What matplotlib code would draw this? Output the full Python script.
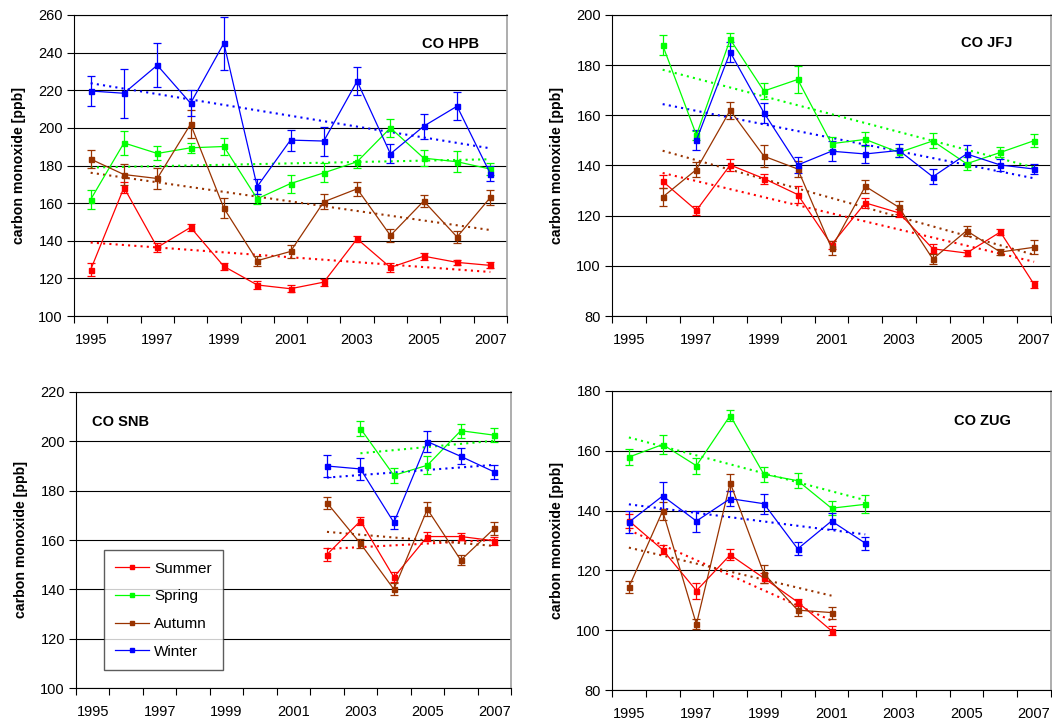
import numpy as np
import matplotlib
matplotlib.use("Agg")
import matplotlib.pyplot as plt
from matplotlib.lines import Line2D

plt.rcParams['font.family'] = ['Liberation Sans', 'DejaVu Sans']

nan = np.nan

# Category axis shared by all four stations
axis_years = list(range(1995, 2008))
year_labels = [str(y) for y in axis_years[::2]]

season_names = ['Summer', 'Spring', 'Autumn', 'Winter']
season_colors = ['#FF0000', '#00FF00', '#993300', '#0000FF']

# ---- HPB (1995-2007) ----
hpb_years = list(range(1995, 2008))
hpb_summer = [124.6, 168.3, 136.5, 147.1, 126.4, 116.5, 114.5, 118.0, 141.0, 125.8, 131.8, 128.5, 126.9]
hpb_summer_err = [3.4, 3.0, 2.5, 2.0, 2.0, 2.3, 2.0, 1.8, 1.3, 2.5, 1.8, 1.5, 1.6]
hpb_spring = [161.9, 192.0, 186.4, 189.4, 190.1, 162.3, 170.4, 176.1, 182.0, 200.0, 183.9, 182.0, 178.1]
hpb_spring_err = [5.0, 6.3, 3.7, 2.8, 4.3, 2.7, 4.8, 5.0, 3.5, 4.7, 4.2, 5.5, 3.3]
hpb_autumn = [183.4, 175.2, 173.1, 202.0, 157.3, 129.4, 134.3, 160.7, 167.6, 142.8, 161.1, 142.0, 163.0]
hpb_autumn_err = [4.9, 5.5, 5.5, 7.5, 5.3, 2.7, 3.3, 3.9, 3.7, 3.4, 3.4, 3.0, 4.2]
hpb_winter = [219.6, 218.4, 233.3, 213.1, 245.0, 168.8, 193.5, 193.0, 224.8, 186.2, 200.9, 211.5, 175.6]
hpb_winter_err = [8.0, 13.0, 11.7, 7.0, 14.0, 4.0, 5.6, 7.7, 7.5, 5.0, 6.7, 7.5, 4.0]

# ---- JFJ (1996-2007) ----
jfj_years = list(range(1996, 2008))
jfj_summer = [133.7, 122.1, 140.2, 134.8, 128.4, 108.4, 125.1, 121.1, 106.8, 105.1, 113.5, 92.6]
jfj_summer_err = [2.5, 1.8, 2.5, 2.0, 3.5, 1.5, 2.0, 1.7, 1.8, 1.3, 1.3, 1.5]
jfj_spring = [188.0, 152.1, 190.3, 169.7, 174.3, 148.7, 150.4, 145.2, 149.8, 140.7, 145.2, 149.9]
jfj_spring_err = [4.0, 1.8, 2.5, 3.0, 5.3, 2.5, 2.8, 1.8, 3.0, 2.5, 2.0, 2.5]
jfj_autumn = [127.4, 138.4, 162.0, 143.7, 138.6, 107.1, 131.7, 123.3, 102.7, 114.0, 105.5, 107.4]
jfj_autumn_err = [3.7, 3.0, 3.3, 4.3, 3.3, 2.8, 2.7, 2.5, 2.0, 2.0, 1.3, 2.7]
jfj_winter = [nan, 150.1, 185.2, 161.0, 140.2, 145.7, 144.6, 146.0, 135.5, 144.6, 140.2, 138.6]
jfj_winter_err = [nan, 4.0, 4.0, 4.0, 3.0, 4.0, 3.5, 2.5, 3.0, 3.5, 2.5, 2.0]

# ---- SNB (2002-2007) ----
snb_years = list(range(2002, 2008))
snb_summer = [154.1, 167.7, 144.9, 161.4, 161.4, 159.7]
snb_summer_err = [2.5, 1.6, 2.0, 1.7, 1.5, 1.7]
snb_spring = [nan, 205.2, 186.2, 190.3, 204.3, 202.5]
snb_spring_err = [nan, 2.9, 3.0, 3.6, 2.9, 2.8]
snb_autumn = [175.1, 158.6, 140.0, 172.5, 151.8, 164.7]
snb_autumn_err = [2.4, 2.0, 2.4, 2.8, 2.0, 2.6]
snb_winter = [190.0, 188.8, 167.1, 199.9, 193.9, 187.6]
snb_winter_err = [4.4, 4.3, 2.8, 4.2, 3.2, 2.8]

# ---- ZUG (1995-2002) ----
zug_years = list(range(1995, 2003))
zug_summer = [136.6, 126.9, 113.2, 125.2, 117.4, 109.4, 99.8, nan]
zug_summer_err = [2.3, 1.5, 2.6, 1.8, 1.6, 1.2, 1.5, nan]
zug_spring = [157.9, 162.1, 155.0, 171.8, 152.1, 150.0, 140.8, 142.1]
zug_spring_err = [2.8, 3.2, 2.6, 2.0, 2.5, 2.5, 2.3, 3.0]
zug_autumn = [114.4, 139.9, 102.0, 149.3, 118.9, 106.7, 105.9, nan]
zug_autumn_err = [2.0, 3.0, 1.7, 2.8, 3.0, 2.0, 2.0, nan]
zug_winter = [136.1, 144.9, 136.5, 144.0, 142.3, 127.2, 136.5, 129.1]
zug_winter_err = [3.6, 4.5, 3.5, 2.5, 3.3, 2.2, 2.8, 2.2]

# Trend lines that start at the first year of the station record even
# where the season has no value for that year
trend_from_record_start = {('CO JFJ', 'Winter')}

W, H = 1052, 721
fig = plt.figure(figsize=(W / 100, H / 100), dpi=100)

TICK_FS = 10.5
LABEL_FS = 10.2


def add_panel(left, top, right, bottom):
    return fig.add_axes([left / W, 1 - bottom / H, (right - left) / W, (bottom - top) / H])


def draw_station(ax, name, years, series, ylim, title_xy, title_ha):
    x_all = np.array([axis_years.index(y) for y in years], dtype=float)
    for (label, color), (vals, errs) in zip(zip(season_names, season_colors), series):
        v = np.array(vals, dtype=float)
        e = np.array(errs, dtype=float)
        ok = ~np.isnan(v)
        # linear trend, dotted
        k, b = np.polyfit(x_all[ok], v[ok], 1)
        x0 = x_all[0] if (name, label) in trend_from_record_start else x_all[ok][0]
        xs = np.array([x0, x_all[ok][-1]])
        ax.plot(xs, k * xs + b, color=color, lw=1.5, linestyle=(0, (1.0, 2.0)),
                zorder=2)
        ax.errorbar(x_all[ok], v[ok], yerr=e[ok], color=color, lw=0.9,
                    marker='s', ms=3.6, capsize=3, elinewidth=0.9, capthick=0.9,
                    label=label, zorder=3)

    ax.set_xlim(-0.5, len(axis_years) - 0.5)
    ax.set_ylim(*ylim)
    ax.set_yticks(np.arange(ylim[0], ylim[1] + 1, 20))
    ax.yaxis.grid(True, color='black', lw=0.8)
    ax.set_axisbelow(True)

    ax.set_xticks(np.arange(-0.5, len(axis_years), 1))
    ax.set_xticklabels([])
    ax.set_xticks(np.arange(0, len(axis_years), 2), minor=True)
    ax.set_xticklabels(year_labels, minor=True)
    ax.tick_params(axis='x', which='major', length=5, width=0.8, direction='out')
    ax.tick_params(axis='x', which='minor', length=0, pad=12.5, labelsize=TICK_FS)
    ax.tick_params(axis='y', length=5, width=0.8, direction='out', labelsize=TICK_FS, pad=3)

    for side in ('left', 'bottom', 'top'):
        ax.spines[side].set_color('black')
        ax.spines[side].set_linewidth(0.8)
    ax.spines['right'].set_color('#a0a0a0')
    ax.spines['right'].set_linewidth(1.2)

    ax.set_ylabel('carbon monoxide [ppb]', fontsize=LABEL_FS, fontweight='bold')
    width_px = ax.get_position().width * W
    ax.yaxis.set_label_coords(-48 / width_px, 0.5)
    ax.text(title_xy[0], title_xy[1], name, transform=ax.transAxes,
            fontsize=10.5, fontweight='bold', ha=title_ha, va='center')


ax1 = add_panel(74, 15, 507, 316)
draw_station(ax1, 'CO HPB', hpb_years,
             [(hpb_summer, hpb_summer_err), (hpb_spring, hpb_spring_err),
              (hpb_autumn, hpb_autumn_err), (hpb_winter, hpb_winter_err)],
             (100, 260), (0.935, 0.904), 'right')

ax2 = add_panel(612, 15, 1051, 316)
draw_station(ax2, 'CO JFJ', jfj_years,
             [(jfj_summer, jfj_summer_err), (jfj_spring, jfj_spring_err),
              (jfj_autumn, jfj_autumn_err), (jfj_winter, jfj_winter_err)],
             (80, 200), (0.913, 0.907), 'right')

ax3 = add_panel(76, 392, 511, 688)
draw_station(ax3, 'CO SNB', snb_years,
             [(snb_summer, snb_summer_err), (snb_spring, snb_spring_err),
              (snb_autumn, snb_autumn_err), (snb_winter, snb_winter_err)],
             (100, 220), (0.037, 0.899), 'left')

ax4 = add_panel(612, 391, 1051, 690)
draw_station(ax4, 'CO ZUG', zug_years,
             [(zug_summer, zug_summer_err), (zug_spring, zug_spring_err),
              (zug_autumn, zug_autumn_err), (zug_winter, zug_winter_err)],
             (80, 180), (0.909, 0.9), 'right')

# Legend inside the SNB panel, line + marker handles without error bars
handles = [Line2D([], [], color=c, lw=0.9, marker='s', ms=3.2) for c in season_colors]
leg = ax3.legend(handles, season_names, loc='upper left', bbox_to_anchor=(0.064, 0.466),
                 borderaxespad=0, fontsize=11, frameon=True, fancybox=False,
                 handlelength=2.2, handletextpad=0.35, labelspacing=0.9,
                 borderpad=0.75, edgecolor='#333333')
leg.get_frame().set_linewidth(1.0)

fig.savefig('out.png', dpi=100)
